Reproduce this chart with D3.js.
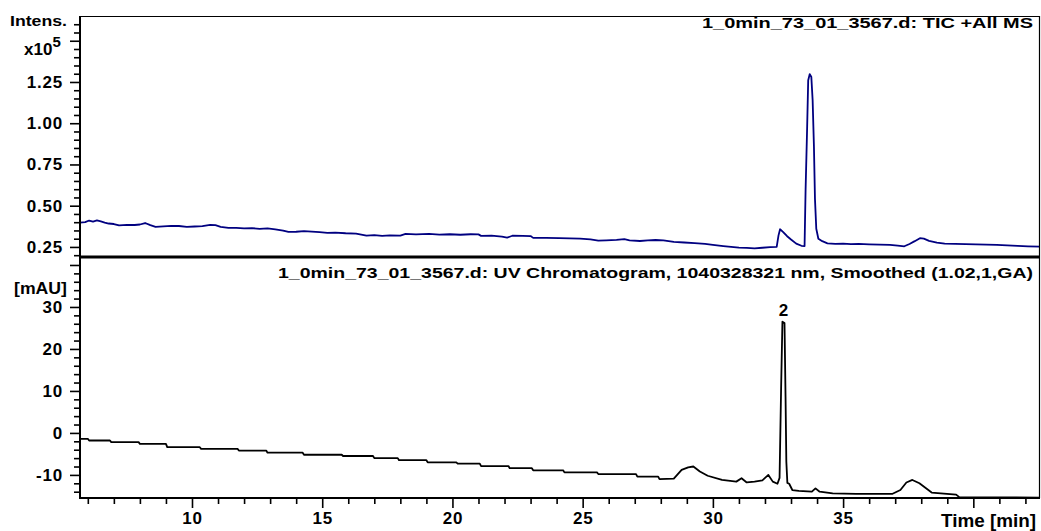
<!DOCTYPE html>
<html>
<head>
    <meta charset="UTF-8">
    <title>TIC and UV chromatogram</title>
    <script type="text/javascript" src="https://cdn.jsdelivr.net/npm/d3@7"></script>
    <style>
        body { margin: 0; background: #fff; }
        svg { display: block; }
        text { font-family: "Liberation Sans", Arial, sans-serif; font-weight: bold; fill: #000; }
    </style>
</head>
<body>
<div id="chart"></div>
<script>
    // TIC +All MS, intensity x10^5
    var ticTime = [5.70, 5.90, 6.05, 6.20, 6.35, 6.50, 6.65, 6.80, 7.00, 7.20, 7.50, 7.80, 8.00, 8.20, 8.40, 8.60, 8.90, 9.20, 9.50, 9.80,
        10.10, 10.40, 10.70, 10.90, 11.10, 11.40, 11.70, 12.00, 12.30, 12.60, 12.90, 13.20, 13.50, 13.70, 14.00, 14.30, 14.60, 14.90,
        15.20, 15.50, 15.90, 16.30, 16.70, 17.00, 17.30, 17.60, 18.00, 18.20, 18.60, 19.10, 19.50, 19.90, 20.30, 20.70, 21.00, 21.10,
        21.50, 21.90, 22.10, 22.30, 22.70, 23.00, 23.10, 23.60, 24.10, 24.50, 24.90, 25.30, 25.60, 25.90, 26.30, 26.60, 26.80, 27.20,
        27.50, 27.80, 28.10, 28.50, 28.90, 29.30, 29.70, 30.00, 30.40, 30.70, 31.00, 31.30, 31.60, 31.90, 32.20, 32.45, 32.52, 32.58,
        32.70, 32.85, 33.00, 33.20, 33.40, 33.52, 33.56, 33.62, 33.66, 33.72, 33.78, 33.83, 33.88, 33.92, 33.97, 34.05, 34.20, 34.40,
        34.70, 35.00, 35.30, 35.60, 36.00, 36.40, 36.80, 37.10, 37.35, 37.55, 37.75, 37.95, 38.10, 38.30, 38.60, 38.90, 39.30, 39.70,
        40.10, 40.50, 40.90, 41.30, 41.70, 42.10, 42.56];
    var ticIntens = [0.397, 0.400, 0.410, 0.404, 0.411, 0.405, 0.398, 0.392, 0.389, 0.381, 0.384, 0.383, 0.386, 0.395, 0.382, 0.372, 0.375, 0.378, 0.377, 0.372,
        0.374, 0.376, 0.384, 0.382, 0.372, 0.365, 0.366, 0.362, 0.364, 0.360, 0.362, 0.357, 0.349, 0.341, 0.342, 0.346, 0.343, 0.340,
        0.335, 0.337, 0.333, 0.331, 0.318, 0.322, 0.317, 0.320, 0.318, 0.329, 0.326, 0.329, 0.325, 0.327, 0.324, 0.327, 0.326, 0.317,
        0.318, 0.312, 0.306, 0.318, 0.317, 0.316, 0.305, 0.305, 0.304, 0.302, 0.301, 0.296, 0.288, 0.290, 0.293, 0.297, 0.290, 0.286,
        0.290, 0.292, 0.290, 0.281, 0.277, 0.273, 0.268, 0.262, 0.255, 0.250, 0.246, 0.244, 0.241, 0.245, 0.249, 0.250, 0.320, 0.357,
        0.340, 0.315, 0.295, 0.270, 0.257, 0.255, 0.600, 0.980, 1.260, 1.298, 1.280, 1.140, 0.860, 0.540, 0.360, 0.300, 0.285, 0.272,
        0.268, 0.270, 0.267, 0.268, 0.266, 0.264, 0.262, 0.258, 0.254, 0.268, 0.285, 0.303, 0.300, 0.287, 0.276, 0.270, 0.268, 0.267,
        0.265, 0.264, 0.262, 0.259, 0.257, 0.254, 0.252];

    // UV chromatogram, mAU
    var uvTime = [5.70, 6.00, 6.05, 6.85, 6.90, 7.95, 8.00, 9.00, 9.05, 10.30, 10.35, 11.75, 11.80, 12.85, 12.90, 14.25, 14.30,
        15.75, 15.80, 16.95, 17.00, 17.90, 17.95, 19.00, 19.05, 20.15, 20.20, 21.05, 21.10, 22.15, 22.20, 23.05, 23.10, 24.25, 24.30,
        25.55, 25.60, 27.05, 27.10, 27.90, 27.95, 28.50, 28.80, 29.05, 29.25, 29.50, 29.80, 30.35, 30.90, 31.10, 31.30, 31.60, 31.90,
        32.13, 32.30, 32.48, 32.56, 32.62, 32.67, 32.75, 32.79, 32.82, 32.86, 32.93, 33.05, 33.30, 33.80, 33.94, 34.10, 34.60, 35.50,
        36.90, 37.20, 37.43, 37.66, 37.93, 38.40, 39.34, 39.46, 42.56];
    var uvSignal = [-1.4, -1.4, -1.8, -1.8, -2.2, -2.2, -2.6, -2.6, -3.4, -3.4, -3.8, -3.8, -4.2, -4.2, -4.7, -4.7, -5.2,
        -5.2, -5.5, -5.5, -6.0, -6.0, -6.5, -6.5, -7.0, -7.0, -7.3, -7.3, -7.9, -7.9, -8.4, -8.4, -8.9, -8.9, -9.4,
        -9.4, -9.8, -9.8, -10.4, -10.4, -11.0, -10.9, -8.8, -8.2, -8.0, -9.2, -10.2, -11.2, -11.6, -10.8, -11.8, -11.6, -11.3,
        -10.0, -11.6, -12.1, -10.7, 10.7, 26.5, 26.2, 8.6, -6.8, -11.9, -12.1, -13.6, -13.8, -14.0, -13.2, -14.0, -14.4, -14.5,
        -14.5, -13.6, -11.8, -11.2, -12.0, -14.2, -14.7, -15.3, -15.4];

    var peakTimes = [32.71];
    var peakValues = [26.5];
    var peakNames = ["2"];

    var timeMajorTicks = [10, 15, 20, 25, 30, 35, 40];
    var timeMinorTicks = [6, 7, 8, 9, 11, 12, 13, 14, 16, 17, 18, 19, 21, 22, 23, 24, 26, 27, 28, 29, 31, 32, 33, 34, 36, 37, 38, 39, 41, 42];
    var ticMajorTicks = [0.25, 0.50, 0.75, 1.00, 1.25, 1.50];
    var ticMinorTicks = [0.20, 0.30, 0.35, 0.40, 0.45, 0.55, 0.60, 0.65, 0.70, 0.80, 0.85, 0.90, 0.95, 1.05, 1.10, 1.15, 1.20, 1.30, 1.35, 1.40, 1.45, 1.55, 1.60];
    var uvMajorTicks = [-10, 0, 10, 20, 30, 40];
    var uvMinorTicks = [-14, -12, -8, -6, -4, -2, 2, 4, 6, 8, 12, 14, 16, 18, 22, 24, 26, 28, 32, 34, 36, 38];

    var ticTitle = "1_0min_73_01_3567.d: TIC +All MS";
    var uvTitle = "1_0min_73_01_3567.d: UV Chromatogram, 1040328321 nm, Smoothed (1.02,1,GA)";

    var width = 1041, height = 531;
    var plotLeft = 80, plotRight = 1040, plotTop = 16, plotMid = 257, plotBottom = 498;

    var svg = d3.select("#chart").append("svg")
        .attr("width", width).attr("height", height);
    svg.append("rect").attr("width", width).attr("height", height).attr("fill", "#fff");

    var x = d3.scaleLinear().domain([5.70, 42.56]).range([plotLeft, plotRight]);
    var yTic = d3.scaleLinear().domain([0.189, 1.65]).range([plotMid, plotTop]);
    var yUv = d3.scaleLinear().domain([-15.5, 41.9]).range([plotBottom, plotMid]);

    function styleAxis(g) {
        g.select(".domain").remove();
        g.selectAll(".tick line").attr("stroke", "#000").attr("stroke-width", 1.6);
        g.selectAll(".tick text")
            .attr("font-size", 17).attr("letter-spacing", "0.8px")
            .attr("font-family", "'Liberation Sans', Arial, sans-serif").attr("font-weight", "bold");
    }

    // y axes, minor then major
    svg.append("g").attr("transform", "translate(" + plotLeft + ",0)")
        .call(d3.axisLeft(yTic).tickValues(ticMinorTicks).tickSize(6).tickFormat(""))
        .call(styleAxis);
    svg.append("g").attr("transform", "translate(" + plotLeft + ",0)")
        .call(d3.axisLeft(yTic).tickValues(ticMajorTicks).tickSize(10).tickPadding(7)
            .tickFormat(function (d) { return d > 1.4 ? "" : d3.format(".2f")(d); }))
        .call(styleAxis);
    svg.append("g").attr("transform", "translate(" + plotLeft + ",0)")
        .call(d3.axisLeft(yUv).tickValues(uvMinorTicks).tickSize(6).tickFormat(""))
        .call(styleAxis);
    svg.append("g").attr("transform", "translate(" + plotLeft + ",0)")
        .call(d3.axisLeft(yUv).tickValues(uvMajorTicks).tickSize(10).tickPadding(7)
            .tickFormat(function (d) { return d > 35 ? "" : d; }))
        .call(styleAxis);

    // x axis
    svg.append("g").attr("transform", "translate(0," + plotBottom + ")")
        .call(d3.axisBottom(x).tickValues(timeMinorTicks).tickSize(6).tickFormat(""))
        .call(styleAxis);
    svg.append("g").attr("transform", "translate(0," + plotBottom + ")")
        .call(d3.axisBottom(x).tickValues(timeMajorTicks).tickSize(10).tickPadding(4)
            .tickFormat(function (d) { return d === 40 ? "" : d; }))
        .call(styleAxis);

    // traces
    svg.append("clipPath").attr("id", "clipTop")
        .append("rect").attr("x", plotLeft).attr("y", plotTop).attr("width", plotRight - plotLeft).attr("height", plotMid - plotTop);
    svg.append("clipPath").attr("id", "clipBot")
        .append("rect").attr("x", plotLeft).attr("y", plotMid).attr("width", plotRight - plotLeft).attr("height", plotBottom - plotMid);

    var ticLine = d3.line()
        .x(function (d, i) { return x(ticTime[i]); })
        .y(function (d) { return yTic(d); });
    svg.append("path")
        .attr("clip-path", "url(#clipTop)")
        .attr("d", ticLine(ticIntens))
        .attr("fill", "none").attr("stroke", "#000080").attr("stroke-width", 1.8)
        .attr("stroke-linejoin", "round");

    var uvLine = d3.line()
        .x(function (d, i) { return x(uvTime[i]); })
        .y(function (d) { return yUv(d); });
    svg.append("path")
        .attr("clip-path", "url(#clipBot)")
        .attr("d", uvLine(uvSignal))
        .attr("fill", "none").attr("stroke", "#000").attr("stroke-width", 1.8)
        .attr("stroke-linejoin", "round");

    // frame
    svg.append("line").attr("x1", plotLeft).attr("x2", plotRight).attr("y1", plotTop + 0.5).attr("y2", plotTop + 0.5)
        .attr("stroke", "#000").attr("stroke-width", 1.2);
    svg.append("line").attr("x1", plotRight - 0.5).attr("x2", plotRight - 0.5).attr("y1", plotTop).attr("y2", plotBottom)
        .attr("stroke", "#000").attr("stroke-width", 1.2);
    svg.append("line").attr("x1", plotLeft).attr("x2", plotLeft).attr("y1", plotTop).attr("y2", plotBottom + 1)
        .attr("stroke", "#000").attr("stroke-width", 2);
    svg.append("line").attr("x1", plotLeft).attr("x2", plotRight).attr("y1", plotMid).attr("y2", plotMid)
        .attr("stroke", "#000").attr("stroke-width", 3);
    svg.append("line").attr("x1", plotLeft - 1).attr("x2", plotRight).attr("y1", plotBottom).attr("y2", plotBottom)
        .attr("stroke", "#000").attr("stroke-width", 2);

    // titles and unit labels
    svg.append("text").attr("x", 1033).attr("y", 28).attr("text-anchor", "end")
        .attr("font-size", 15).attr("textLength", 331).attr("lengthAdjust", "spacingAndGlyphs")
        .text(ticTitle);
    svg.append("text").attr("x", 1033).attr("y", 278).attr("text-anchor", "end")
        .attr("font-size", 15).attr("textLength", 755).attr("lengthAdjust", "spacingAndGlyphs")
        .text(uvTitle);

    svg.append("text").attr("x", 10).attr("y", 26).attr("font-size", 15)
        .attr("textLength", 57).attr("lengthAdjust", "spacingAndGlyphs").text("Intens.");
    var xt = svg.append("text").attr("x", 24).attr("y", 55).attr("font-size", 17);
    xt.append("tspan").text("x10");
    xt.append("tspan").attr("dy", -8).attr("font-size", 15).text("5");

    svg.append("text").attr("x", 14).attr("y", 294).attr("font-size", 17)
        .attr("textLength", 53).attr("lengthAdjust", "spacingAndGlyphs").text("[mAU]");

    svg.append("text").attr("x", 1036).attr("y", 527).attr("text-anchor", "end").attr("font-size", 18)
        .attr("textLength", 95).attr("lengthAdjust", "spacingAndGlyphs").text("Time [min]");

    // peak label
    svg.selectAll(".peak").data(peakNames).enter().append("text")
        .attr("class", "peak")
        .attr("x", function (d, i) { return x(peakTimes[i]); })
        .attr("y", function (d, i) { return yUv(peakValues[i]) - 6; })
        .attr("text-anchor", "middle").attr("font-size", 17)
        .text(function (d) { return d; });
</script>
</body>
</html>
